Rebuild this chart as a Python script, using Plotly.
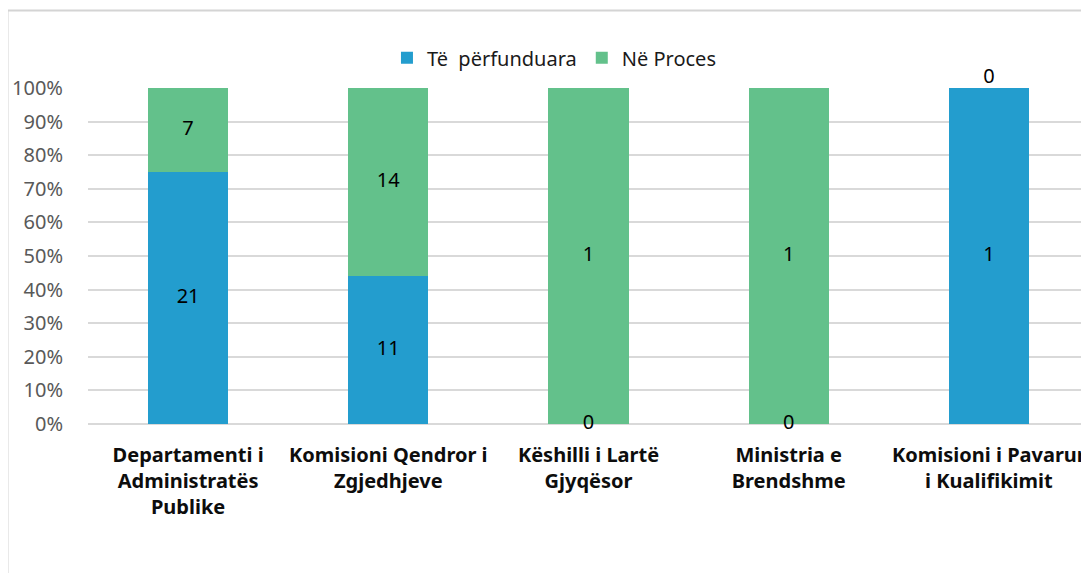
import plotly.graph_objects as go

categories = [
    "<b>Departamenti i<br>Administratës<br>Publike</b>",
    "<b>Komisioni Qendror i<br>Zgjedhjeve</b>",
    "<b>Këshilli i Lartë<br>Gjyqësor</b>",
    "<b>Ministria e<br>Brendshme</b>",
    "<b>Komisioni i Pavarur<br>i Kualifikimit</b>",
]
perfunduara = [21, 11, 0, 0, 1]
ne_proces = [7, 14, 1, 1, 0]

BLUE = "#239dce"
GREEN = "#63c18b"
FONT = "Noto Sans"

totals = [a + b for a, b in zip(perfunduara, ne_proces)]
pct_blue = [100 * a / t for a, t in zip(perfunduara, totals)]
pct_green = [100 * b / t for b, t in zip(ne_proces, totals)]

fig = go.Figure()
fig.add_trace(go.Bar(x=categories, y=pct_blue, name="Të  përfunduara",
                     marker=dict(color=BLUE, line=dict(width=0))))
fig.add_trace(go.Bar(x=categories, y=pct_green, name="Në Proces",
                     marker=dict(color=GREEN, line=dict(width=0))))

# data labels in the middle of each segment
blue_mid = [p / 2 for p in pct_blue]
green_mid = [b + g / 2 for b, g in zip(pct_blue, pct_green)]
green_pos = ["top center" if v == 0 else "middle center" for v in ne_proces]
fig.add_trace(go.Scatter(x=categories, y=blue_mid, mode="text",
                         text=[str(v) for v in perfunduara],
                         textposition="middle center", cliponaxis=False,
                         textfont=dict(family=FONT, size=20, color="#000000"),
                         showlegend=False, hoverinfo="skip"))
fig.add_trace(go.Scatter(x=categories, y=green_mid, mode="text",
                         text=[str(v) for v in ne_proces],
                         textposition=green_pos, cliponaxis=False,
                         textfont=dict(family=FONT, size=20, color="#000000"),
                         showlegend=False, hoverinfo="skip"))

# page body adds 8px, so margins are 8px smaller than the picture offsets
fig.update_layout(
    width=1089, height=573,
    margin=dict(l=80, r=8, t=80, b=157, autoexpand=False),
    barmode="stack", bargap=0.6,
    plot_bgcolor="white", paper_bgcolor="white",
    font=dict(family=FONT, size=20, color="#595959"),
    legend=dict(orientation="h", x=0.466, xanchor="center", y=1.09, yanchor="middle",
                font=dict(family=FONT, size=20, color="#1a1a1a"),
                itemwidth=30, traceorder="normal"),
    showlegend=True,
)
fig.update_yaxes(range=[0, 100], dtick=10, ticksuffix="%", automargin=False,
                 showgrid=True, gridcolor="#d9d9d9", gridwidth=1.5,
                 zeroline=True, zerolinecolor="#d9d9d9", zerolinewidth=1.5,
                 tickfont=dict(family=FONT, size=20, color="#595959"),
                 ticks="outside", ticklen=20, tickcolor="rgba(0,0,0,0)")
fig.update_xaxes(showgrid=False, showline=False, automargin=False,
                 tickfont=dict(family=FONT, size=20, color="#0d0d0d"),
                 ticks="outside", ticklen=13, tickcolor="rgba(0,0,0,0)")

# outer chart frame (left and top edges visible)
fig.add_shape(type="rect", xref="paper", yref="paper",
              x0=-80.5 / 1001, x1=1.05, y0=-0.6, y1=1 + 77.5 / 336,
              line=dict(color="#d4d4d4", width=2), layer="below")

fig.write_html("out.html")
